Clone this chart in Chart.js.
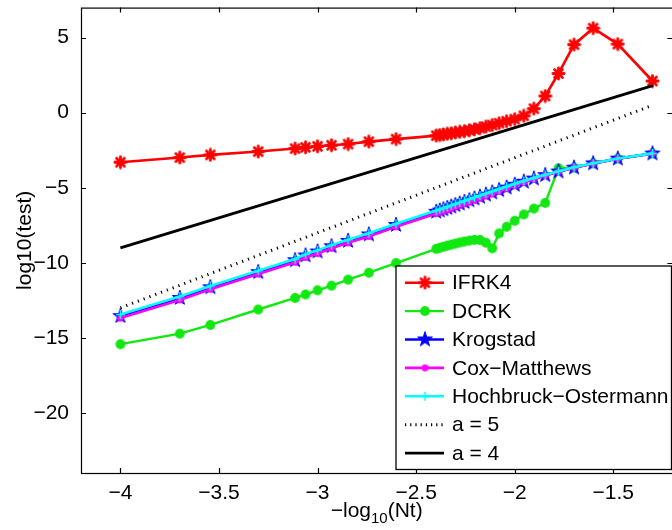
<!DOCTYPE html>
<html>
<head>
<meta charset="utf-8">
<title>log10(test)</title>
<script src="https://cdn.jsdelivr.net/npm/chart.js@4.4.0/dist/chart.umd.min.js"></script>
<style>
  html, body { margin:0; padding:0; overflow:hidden; background:#fff; }
  #wrap { position:relative; width:680px; height:530px; }
</style>
</head>
<body>
<div id="wrap"><canvas id="chart"></canvas></div>
<script>
// x = -log10(Nt)
const nt_x = [-4.000, -3.699, -3.544, -3.301, -3.114, -3.061, -3.000, -2.929, -2.845, -2.740, -2.602,
  -2.398, -2.380, -2.362, -2.342, -2.322, -2.301, -2.279, -2.255, -2.230, -2.204, -2.176, -2.146,
  -2.114, -2.079, -2.041, -2.000, -1.954, -1.903, -1.845, -1.778, -1.699, -1.602, -1.477, -1.301];

const ifrk4 = [-3.30, -2.99, -2.81, -2.59, -2.39, -2.31, -2.24, -2.17, -2.09, -1.93, -1.76,
  -1.53, -1.49, -1.45, -1.41, -1.37, -1.32, -1.28, -1.23, -1.17, -1.11, -1.03, -0.93,
  -0.82, -0.70, -0.57, -0.43, -0.21, 0.27, 1.11, 2.61, 4.53, 5.63, 4.57, 2.11];

const dcrk = [-15.42, -14.72, -14.14, -13.11, -12.34, -12.11, -11.83, -11.52, -11.12, -10.66, -10.02,
  -9.07, -9.00, -8.93, -8.86, -8.79, -8.72, -8.65, -8.58, -8.52, -8.47, -8.48, -8.66,
  -9.03, -8.04, -7.60, -7.20, -6.78, -6.39, -6.01, -3.70, -3.66, -3.38, -3.06, -2.72];

const krogstad = [-13.55, -12.34, -11.63, -10.62, -9.83, -9.51, -9.25, -8.90, -8.54, -8.11, -7.48,
  -6.60, -6.52, -6.44, -6.35, -6.26, -6.16, -6.06, -5.95, -5.84, -5.72, -5.60, -5.46,
  -5.32, -5.16, -4.99, -4.80, -4.60, -4.39, -4.16, -3.92, -3.66, -3.38, -3.06, -2.72];

const coxMatthews = [-13.68, -12.47, -11.76, -10.75, -9.96, -9.64, -9.38, -9.03, -8.67, -8.24, -7.60,
  -6.71, -6.63, -6.55, -6.46, -6.37, -6.27, -6.17, -6.06, -5.95, -5.82, -5.70, -5.55,
  -5.41, -5.24, -5.06, -4.86, -4.65, -4.43, -4.19, -3.94, -3.67, -3.39, -3.07, -2.73];

const hochOst = [-13.45, -12.25, -11.54, -10.53, -9.75, -9.43, -9.17, -8.82, -8.46, -8.03, -7.40,
  -6.52, -6.44, -6.36, -6.27, -6.18, -6.08, -5.98, -5.87, -5.76, -5.64, -5.52, -5.38,
  -5.24, -5.09, -4.92, -4.74, -4.55, -4.35, -4.13, -3.90, -3.64, -3.37, -3.05, -2.71];

// reference slopes
const ref_x = [-4.0, -1.3];
const a5_y = [-13.0, 0.5];
const a4_y = [-9.0, 1.8];

const x_ticks = [-4, -3.5, -3, -2.5, -2, -1.5];
const y_ticks = [5, 0, -5, -10, -15, -20];

const FONT = '"Liberation Sans", Arial, Helvetica, sans-serif';
const GREEN = '#10e810';

function pts(xs, ys) {
  return xs.map((x, i) => ({x: x, y: ys[i]}));
}
function minus(v) {
  return String(v).replace('-', '\u2212');
}

// marker images
function marker(size, draw) {
  const c = document.createElement('canvas');
  c.width = size; c.height = size;
  draw(c.getContext('2d'), size / 2);
  return c;
}
const mkAsterisk = marker(15, (ctx, m) => {
  ctx.strokeStyle = '#ff0000'; ctx.lineWidth = 2.8; ctx.lineCap = 'round';
  for (let k = 0; k < 4; k++) {
    const a = k * Math.PI / 4, r = 5.6;
    ctx.beginPath();
    ctx.moveTo(m - r * Math.cos(a), m - r * Math.sin(a));
    ctx.lineTo(m + r * Math.cos(a), m + r * Math.sin(a));
    ctx.stroke();
  }
});
const mkGreen = marker(12, (ctx, m) => {
  ctx.fillStyle = GREEN;
  ctx.beginPath(); ctx.arc(m, m, 4.9, 0, Math.PI * 2); ctx.fill();
});
const mkStar = marker(18, (ctx, m) => {
  ctx.fillStyle = '#0000ff'; ctx.strokeStyle = '#0000ff'; ctx.lineWidth = 1;
  ctx.beginPath();
  for (let k = 0; k < 10; k++) {
    const r = k % 2 ? 3.0 : 7.8;
    const a = -Math.PI / 2 + k * Math.PI / 5;
    const px = m + r * Math.cos(a), py = m + r * Math.sin(a);
    if (k === 0) ctx.moveTo(px, py); else ctx.lineTo(px, py);
  }
  ctx.closePath(); ctx.fill(); ctx.stroke();
});
const mkMagenta = marker(9, (ctx, m) => {
  ctx.fillStyle = '#ff00ff';
  ctx.beginPath(); ctx.arc(m, m, 3.4, 0, Math.PI * 2); ctx.fill();
});
const mkPlus = marker(11, (ctx, m) => {
  ctx.strokeStyle = '#00ffff'; ctx.lineWidth = 1.6;
  ctx.beginPath();
  ctx.moveTo(m - 4.5, m); ctx.lineTo(m + 4.5, m);
  ctx.moveTo(m, m - 4.5); ctx.lineTo(m, m + 4.5);
  ctx.stroke();
});

const legendRows = [
  {label: 'IFRK4', color: '#ff0000', width: 2.6, img: mkAsterisk},
  {label: 'DCRK', color: GREEN, width: 2.4, img: mkGreen},
  {label: 'Krogstad', color: '#0000ff', width: 2.6, img: mkStar},
  {label: 'Cox\u2212Matthews', color: '#ff00ff', width: 2.6, img: mkMagenta},
  {label: 'Hochbruck\u2212Ostermann', color: '#00ffff', width: 2.6, img: mkPlus},
  {label: 'a = 5', color: '#000000', width: 3, dash: [1.2, 4]},
  {label: 'a = 4', color: '#000000', width: 2.8}
];

// matlab style box, inward ticks, x label and legend
const matlabBox = {
  id: 'matlabBox',
  afterDraw(chart) {
    const ctx = chart.ctx, a = chart.chartArea;
    const xs = chart.scales.x, ys = chart.scales.y;
    ctx.save();
    ctx.strokeStyle = '#000'; ctx.lineWidth = 1.2;
    ctx.strokeRect(a.left + 0.5, a.top + 0.5, a.right - a.left, a.bottom - a.top);
    ctx.beginPath();
    x_ticks.forEach(v => {
      const p = Math.round(xs.getPixelForValue(v)) + 0.5;
      ctx.moveTo(p, a.bottom); ctx.lineTo(p, a.bottom - 5);
      ctx.moveTo(p, a.top); ctx.lineTo(p, a.top + 5);
    });
    y_ticks.forEach(v => {
      const p = Math.round(ys.getPixelForValue(v)) + 0.5;
      ctx.moveTo(a.left, p); ctx.lineTo(a.left + 5, p);
      ctx.moveTo(a.right, p); ctx.lineTo(a.right - 5, p);
    });
    ctx.stroke();

    // x label: -log10(Nt)
    const cx = (a.left + a.right) / 2;
    const big = '21px ' + FONT, small = '15px ' + FONT;
    ctx.fillStyle = '#000';
    ctx.textBaseline = 'middle';
    ctx.font = big;
    const w1 = ctx.measureText('\u2212log').width;
    const w3 = ctx.measureText('(Nt)').width;
    ctx.font = small;
    const w2 = ctx.measureText('10').width;
    let tx = cx - (w1 + w2 + w3) / 2;
    const ty = 511;
    ctx.textAlign = 'left';
    ctx.font = big; ctx.fillText('\u2212log', tx, ty); tx += w1;
    ctx.font = small; ctx.fillText('10', tx, ty + 8); tx += w2;
    ctx.font = big; ctx.fillText('(Nt)', tx, ty);

    // legend
    const L = 396, T = 266, R = 671.5, B = 469.5;
    ctx.fillStyle = '#fff';
    ctx.fillRect(L, T, R - L, B - T);
    ctx.lineWidth = 1.3; ctx.strokeStyle = '#000';
    ctx.strokeRect(L, T, R - L, B - T);
    ctx.font = big;
    legendRows.forEach((row, i) => {
      const y = 282.7 + i * 28.4;
      ctx.beginPath();
      ctx.setLineDash(row.dash || []);
      ctx.strokeStyle = row.color; ctx.lineWidth = row.width;
      ctx.moveTo(405, y); ctx.lineTo(444, y); ctx.stroke();
      ctx.setLineDash([]);
      if (row.img) ctx.drawImage(row.img, 425 - row.img.width / 2, y - row.img.height / 2);
      ctx.fillStyle = '#000';
      ctx.fillText(row.label, 452, y + 1);
    });
    ctx.restore();
  }
};

function series(label, ys, color, width, img, order) {
  return {
    label: label, data: pts(nt_x, ys), showLine: true,
    borderColor: color, backgroundColor: color, borderWidth: width,
    pointStyle: img, pointRadius: 5, order: order
  };
}

new Chart(document.getElementById('chart'), {
  type: 'scatter',
  data: {
    datasets: [
      series('IFRK4', ifrk4, '#ff0000', 2.6, mkAsterisk, 7),
      series('DCRK', dcrk, GREEN, 2.4, mkGreen, 6),
      series('Krogstad', krogstad, '#0000ff', 2.6, mkStar, 5),
      series('Cox\u2212Matthews', coxMatthews, '#ff00ff', 2.6, mkMagenta, 4),
      series('Hochbruck\u2212Ostermann', hochOst, '#00ffff', 2.6, mkPlus, 3),
      {label: 'a = 5', data: pts(ref_x, a5_y), showLine: true, borderColor: '#000',
       borderWidth: 3, borderDash: [1.2, 5], pointRadius: 0, order: 2},
      {label: 'a = 4', data: pts(ref_x, a4_y), showLine: true, borderColor: '#000',
       borderWidth: 2.8, pointRadius: 0, order: 1}
    ]
  },
  options: {
    responsive: true,
    maintainAspectRatio: false,
    animation: false,
    layout: { padding: {top: 2, right: 4, left: 0, bottom: 0} },
    plugins: { legend: {display: false}, tooltip: {enabled: false} },
    scales: {
      x: {
        type: 'linear', min: -4.2, max: -1.2,
        grid: {display: false}, border: {display: false},
        afterBuildTicks: s => { s.ticks = x_ticks.map(v => ({value: v})); },
        afterFit: s => { s.height = 57; s.paddingLeft = 0; s.paddingRight = 0; },
        ticks: { color: '#000', font: {family: FONT, size: 21}, padding: 0, maxRotation: 0,
                 callback: v => minus(v) }
      },
      y: {
        type: 'linear', min: -24, max: 7,
        grid: {display: false}, border: {display: false},
        afterBuildTicks: s => { s.ticks = y_ticks.map(v => ({value: v})); },
        afterFit: s => { s.width = 81; s.paddingTop = 0; s.paddingBottom = 0; },
        ticks: { color: '#000', font: {family: FONT, size: 21}, padding: 4,
                 callback: v => minus(v) },
        title: { display: true, text: 'log10(test)', color: '#000',
                 font: {family: FONT, size: 21}, padding: {top: 13, bottom: 0} }
      }
    }
  },
  plugins: [matlabBox]
});
</script>
</body>
</html>
